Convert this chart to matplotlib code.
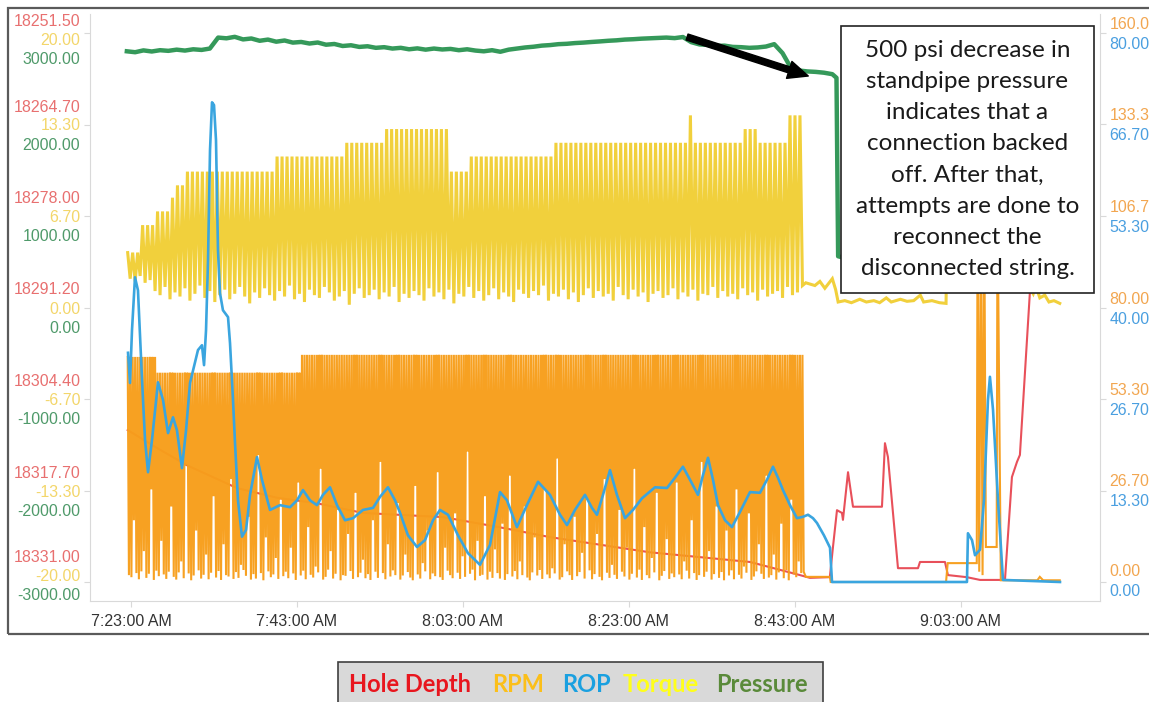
import numpy as np
import matplotlib.pyplot as plt
import matplotlib.transforms as mtransforms
from matplotlib.patches import Rectangle

plt.rcParams['font.family'] = 'Liberation Sans'

# x axis: minutes after 7:23:00 AM
time_ticks = [0, 20, 40, 60, 80, 100]
time_labels = ['7:23:00 AM', '7:43:00 AM', '8:03:00 AM', '8:23:00 AM', '8:43:00 AM', '9:03:00 AM']

depth_labels = ['18251.50', '18264.70', '18278.00', '18291.20', '18304.40', '18317.70', '18331.00']
torque_labels = ['20.00', '13.30', '6.70', '0.00', '-6.70', '-13.30', '-20.00']
pressure_labels = ['3000.00', '2000.00', '1000.00', '0.00', '-1000.00', '-2000.00', '-3000.00']
rpm_labels = ['160.00', '133.30', '106.70', '80.00', '53.30', '26.70', '0.00']
rop_labels = ['80.00', '66.70', '53.30', '40.00', '26.70', '13.30', '0.00']

# standpipe pressure, psi
pressure_t = [-0.5, 0.5, 1.5, 2.5, 3.5, 4.5, 5.5, 6.5, 7.5, 8.5, 9.5, 10.5, 11.5, 12.5, 13.5,
              14.5, 15.5, 16.5, 17.5, 18.5, 19.5, 20.5, 21.5, 22.5, 23.5, 24.5, 25.5, 26.5,
              27.5, 28.5, 29.5, 30.5, 31.5, 32.5, 33.5, 34.5, 35.5, 36.5, 37.5, 38.5, 39.5,
              40.5, 41.5, 42.5, 43.5, 44.5, 45.5, 46.5, 47.5, 48.5, 49.5, 50.5, 51.5, 52.5,
              53.5, 54.5, 55.5, 56.5, 57.5, 58.5, 59.5, 60.5, 61.5, 62.5, 63.5, 64.5, 65.5,
              66.5, 67.5, 68.5, 69.5, 70.5, 71.5, 72.5, 73.5, 74.5, 75.5, 76.5, 77.5, 78.5,
              79.5, 80.5, 81.5, 82.5, 83.5, 84.5, 85.0, 85.2, 86.5]
pressure = [2800, 2790, 2810, 2798, 2812, 2805, 2818, 2808, 2822, 2815, 2830, 2950, 2942, 2958,
            2930, 2940, 2915, 2928, 2905, 2918, 2895, 2902, 2885, 2896, 2872, 2880, 2858, 2866,
            2848, 2855, 2838, 2845, 2830, 2838, 2822, 2832, 2818, 2830, 2820, 2826, 2812, 2822,
            2808, 2800, 2812, 2795, 2818, 2830, 2842, 2850, 2862, 2868, 2878, 2882, 2890, 2895,
            2902, 2908, 2915, 2920, 2928, 2932, 2938, 2942, 2946, 2950, 2944, 2956, 2900, 2875,
            2870, 2858, 2862, 2848, 2845, 2838, 2842, 2852, 2878, 2780, 2620, 2590, 2580, 2575,
            2566, 2550, 2510, 560, 530]

# torque: drilling cycles (peak level steps up over time) then the quiet tail
torque_steps = [-0.4, 1.2, 2.9, 4.7, 5.5, 6.4, 17.4, 25.5, 30.4, 38.1, 40.8, 51.1, 66.9, 67.6, 73.4, 75.3, 79.0]
torque_levels = [4.0, 6.0, 7.0, 8.0, 8.9, 9.9, 11.0, 12.0, 13.0, 9.9, 11.0, 12.0, 14.0, 12.0, 13.0, 12.0, 14.0]
torque_low = [2.1, 1.9, 2.3, 1.8, 2.0, 1.2, 0.9, 1.5, 0.6, 1.1,
              0.8, 1.4, 0.5, 1.0, 1.6, 0.7, 1.2, 0.4, 0.9, 1.3,
              0.6, 1.0, 1.5, 0.8, 0.3, 1.1, 0.7, 1.4, 0.9, 0.5,
              1.2, 0.8, 1.6, 0.6, 1.0, 0.4, 1.3, 0.9, 0.7, 1.5,
              1.1, 0.5, 0.8, 1.2, 0.2, 1.0, 1.4, 0.7, 0.9, 1.3,
              0.6, 1.1, 0.8, 1.5, 0.4, 1.0, 0.7, 1.2, 0.9, 0.5,
              1.4, 0.8, 1.1, 0.6, 1.3, 0.3, 1.0, 0.8, 1.5, 0.7,
              1.2, 0.5, 0.9, 1.4, 0.6, 1.1, 0.8, 0.4, 1.3, 1.0,
              0.7, 1.2, 0.9, 1.6, 0.5, 1.0, 0.8, 1.3, 0.6, 1.1,
              0.4, 0.9, 1.4, 0.7, 1.2, 0.8, 1.0, 0.5, 1.5, 0.9,
              0.6, 1.3, 0.8, 1.1, 0.4, 1.0, 1.2, 0.7, 0.9, 1.4,
              0.6, 1.1, 0.8, 1.3, 0.5, 1.0, 0.9, 1.5, 0.7, 1.2,
              0.8, 1.0, 0.6, 1.4, 0.9, 1.1, 0.5, 1.3, 0.8, 1.0,
              1.2, 0.7, 1.5, 0.9, 1.1, 1.6]
torque_tail_t = [81.3, 82.4, 83.0, 83.6, 84.5, 84.9, 85.2, 86.0, 86.8, 87.8, 88.6, 89.5, 90.2,
                 91.0, 91.6, 92.7, 93.5, 94.3, 95.1, 95.5, 96.5, 97.4, 98.2, 98.4, 107.9, 108.3,
                 108.7, 109.0, 109.5, 110.1, 110.6, 111.2, 111.9]
torque_tail = [1.8, 1.6, 1.9, 1.4, 2.1, 1.3, 0.4, 0.5, 0.35, 0.6, 0.4, 0.5, 0.35, 0.7, 0.4,
               0.6, 0.45, 0.5, 0.9, 0.4, 0.5, 0.35, 0.3, 9.5, 9.5, 1.4, 1.0, 1.6, 0.7, 0.9,
               0.4, 0.5, 0.3]

# rotary speed cycles
rpm_steps = [-0.4, 3.0, 20.6]
rpm_levels = [65.6, 61.0, 66.2]
rpm_low = [2.0, 1.4, 18.0, 2.6, 0.8, 3.1, 9.0, 1.2, 2.4, 27.0, 0.6, 3.3, 1.7, 12.0, 2.2, 0.9,
           3.0, 22.0, 1.5, 0.7, 2.8, 6.0, 1.1, 34.0, 2.5, 0.5, 1.9, 15.0, 3.4, 1.0, 2.1, 8.0,
           0.8, 2.7, 25.0, 1.3, 3.2, 0.6, 11.0, 2.0, 1.6, 30.0, 0.9, 2.9, 1.2, 5.0, 3.5, 1.8,
           19.0, 0.7, 2.3, 1.0, 37.0, 2.6, 0.5, 13.0, 3.1, 1.4, 2.2, 7.0, 0.9, 24.0, 1.7, 3.0,
           1.1, 10.0, 2.5, 0.6, 29.0, 1.9, 3.3, 0.8, 16.0, 2.1, 1.3, 4.5, 2.8, 33.0, 0.7, 1.5,
           3.6, 9.0, 1.0, 2.4, 21.0, 0.5, 2.0, 1.8, 14.0, 3.2, 0.9, 26.0, 1.4, 2.7, 6.5, 1.1,
           2.3, 0.6, 18.0, 3.0, 1.2, 35.0, 2.6, 0.8, 11.0, 1.6, 3.4, 2.0, 23.0, 0.7, 1.9, 8.0,
           2.9, 1.3, 0.5, 28.0, 2.2, 1.0, 5.5, 3.1, 15.0, 0.8, 2.5, 1.7, 32.0, 1.4, 0.6, 10.0,
           3.3, 2.0, 1.1, 20.0, 2.7, 0.9, 7.5, 1.5, 38.0, 2.4, 3.6, 0.5, 12.0, 1.8, 2.1, 25.0,
           0.7, 3.0, 1.2, 9.5, 2.6, 1.0, 17.0, 0.6, 2.3, 31.0, 1.6, 3.2, 0.8, 6.0, 2.0, 22.0,
           1.3, 0.5, 2.8, 13.0, 1.9, 3.5, 0.9, 27.0, 2.2, 1.1, 4.0, 2.5, 36.0, 0.7, 1.4, 11.0,
           3.1, 2.0, 0.6, 19.0, 1.7, 2.9, 8.5, 1.0, 24.0, 3.4, 0.8, 2.3, 14.0, 1.5, 0.5, 30.0,
           2.7, 1.2, 5.0, 2.1, 0.9, 21.0, 3.0, 1.6, 10.0, 0.7, 2.4, 33.0, 1.3, 3.6, 0.6, 16.0,
           2.0, 1.1, 7.0, 2.8, 26.0, 0.5, 1.8, 3.2, 12.5, 0.9, 2.5, 1.4, 29.0, 2.2, 0.8, 6.0,
           3.3, 1.0, 18.0, 2.6, 0.6, 2.0, 35.0, 1.5, 3.0, 9.0, 0.7, 2.3, 22.0, 1.2, 2.9, 0.5,
           15.0, 1.9, 3.4, 0.8, 27.0, 2.1, 1.0, 4.5, 2.7, 20.0, 0.6, 1.6, 3.1, 11.0, 2.4, 0.9,
           31.0, 1.3, 2.0, 8.0, 0.7, 2.8, 17.0, 1.1, 3.5, 0.5, 24.0, 2.2, 1.4, 6.0, 2.6, 3.0]
rpm_tail_t = [81.3, 84.2, 84.3, 98.2, 98.4, 101.9, 102.0, 102.2, 102.4, 102.6, 102.8, 103.0,
              104.3, 104.4, 104.8, 109.2, 109.5, 109.9, 111.9]
rpm_tail = [1.5, 1.5, 0.0, 0.0, 5.5, 5.5, 110.0, 3.0, 110.0, 2.0, 110.0, 10.2, 10.2, 110.0,
            0.5, 0.5, 1.5, 0.5, 0.5]

# rate of penetration
rop_t = [-0.36, -0.12, 0.12, 0.48, 0.84, 1.33, 1.69, 2.05, 2.53, 3.25, 3.86, 4.46, 5.06, 5.54,
         6.14, 6.63, 7.11, 8.07, 8.55, 8.80, 9.04, 9.28, 9.52, 9.76, 10.0, 10.24, 10.48, 10.72,
         11.08, 11.69, 11.93, 12.29, 12.53, 12.89, 13.37, 13.86, 14.34, 15.18, 15.78, 16.75,
         17.95, 19.16, 20.0, 20.72, 21.57, 22.41, 23.13, 23.98, 24.82, 25.78, 26.75, 27.95,
         29.16, 30.0, 30.96, 31.81, 32.41, 33.37, 34.46, 35.42, 36.39, 37.23, 38.19, 39.4,
         40.6, 42.05, 43.25, 44.46, 45.3, 46.5, 47.7, 49.04, 50.48, 51.69, 52.53, 53.49, 54.7,
         55.54, 56.14, 56.87, 57.71, 58.55, 59.52, 60.48, 61.57, 63.13, 64.58, 65.54, 66.5,
         67.35, 68.31, 68.92, 69.52, 70.12, 70.72, 71.57, 72.41, 73.37, 74.58, 75.78, 76.63,
         77.35, 77.95, 78.55, 79.4, 80.24, 80.96, 81.57, 82.17, 82.65, 83.49, 84.22, 84.46,
         100.72, 100.84, 101.33, 101.69, 102.29, 102.77, 103.25, 103.49, 103.86, 104.46,
         105.06, 111.93]
rop = [33.4, 29.0, 36.7, 44.4, 42.5, 29.4, 20.7, 16.0, 20.7, 29.1, 26.5, 21.7, 24.0, 22.1,
       16.6, 22.1, 29.0, 33.8, 34.5, 31.6, 36.7, 46.9, 62.9, 69.9, 69.5, 64.4, 48.4, 42.1,
       39.6, 38.6, 34.8, 26.5, 20.3, 11.9, 6.6, 7.6, 12.7, 18.2, 14.9, 10.5, 11.2, 10.9, 11.9,
       13.4, 11.9, 11.2, 12.7, 13.8, 11.2, 9.0, 9.3, 10.5, 10.8, 12.4, 13.8, 11.9, 10.1, 6.8,
       5.1, 6.1, 9.0, 10.5, 9.8, 6.8, 4.2, 2.5, 5.4, 13.1, 11.9, 8.0, 11.2, 14.6, 12.7, 9.8,
       8.3, 10.5, 12.7, 10.8, 9.8, 12.7, 16.3, 12.7, 9.3, 10.5, 12.2, 13.8, 13.7, 15.2, 16.8,
       14.9, 12.7, 15.6, 18.1, 14.9, 11.2, 9.0, 8.0, 10.2, 13.1, 13.0, 14.9, 16.8, 15.2, 13.4,
       11.2, 9.3, 9.5, 9.8, 9.3, 8.6, 6.8, 5.0, 0.0, 0.0, 7.1, 6.1, 3.9, 4.7, 11.9, 26.5, 29.9,
       25.1, 11.9, 0.3, 0.0]

# hole depth, ft
depth_t = [-0.4, 3.0, 6.75, 12.77, 17.59, 22.41, 27.95, 37.59, 44.1, 50.48, 62.53, 74.58, 80.6,
           81.8, 84.2, 84.58, 85.06, 85.66, 85.78, 86.39, 86.99, 90.48, 90.84, 91.2, 92.41,
           94.82, 95.06, 98.07, 98.43, 100.7, 102.3, 105.3, 106.14, 106.75, 107.1, 108.3, 110.1]
depth = [18309.0, 18311.5, 18314.1, 18317.4, 18318.8, 18319.6, 18321.0, 18321.6, 18323.0,
         18324.5, 18326.7, 18328.1, 18330.0, 18330.4, 18330.3, 18325.9, 18320.6, 18321.0,
         18322.0, 18315.1, 18320.1, 18320.1, 18310.9, 18312.9, 18329.0, 18329.0, 18328.1,
         18328.1, 18330.0, 18330.3, 18330.7, 18330.7, 18315.8, 18313.6, 18312.6, 18289.1,
         18272.8]

legend_names = ['Hole Depth', 'RPM', 'ROP', 'Torque', 'Pressure']
legend_colors = ['#e8161e', '#fbbf1a', '#1aa0e0', '#ffff1a', '#5a8a3a']
legend_x = [349, 492, 562, 623, 716]

note = ('500 psi decrease in\nstandpipe pressure\nindicates that a\nconnection backed\n'
        'off. After that,\nattempts are done to\nreconnect the\ndisconnected string.')


def cycles(t0, period, steps, levels, lows):
    # alternate peak / trough samples of a cycling channel
    n = len(lows)
    t_hi = t0 + period * np.arange(n)
    highs = np.array(levels)[np.searchsorted(steps, t_hi, side='right') - 1]
    t = np.column_stack([t_hi, t_hi + period / 2]).ravel()
    v = np.column_stack([highs, lows]).ravel()
    return t, v


tq_t, tq_v = cycles(-0.4, 0.6, torque_steps, torque_levels, torque_low)
tq_t = np.concatenate([tq_t, torque_tail_t])
tq_v = np.concatenate([tq_v, torque_tail])
rpm_t, rpm_v = cycles(-0.4, 0.3, rpm_steps, rpm_levels, rpm_low)
rpm_t = np.concatenate([rpm_t, rpm_tail_t])
rpm_v = np.concatenate([rpm_v, rpm_tail])

W, H = 1149, 702
fig = plt.figure(figsize=(W / 100, H / 100), dpi=100)
ax_hd = fig.add_axes([90 / W, 1 - 601 / H, 1010 / W, 587 / H])
ax_tq = ax_hd.twinx()
ax_rpm = ax_hd.twinx()
ax_rop = ax_hd.twinx()
ax_p = ax_hd.twinx()

ax_hd.plot(depth_t, depth, color='#e8505a', lw=1.5)
ax_tq.plot(tq_t, tq_v, color='#f1d03c', lw=2.2, solid_joinstyle='miter')
ax_rpm.plot(rpm_t, rpm_v, color='#f79e1b', lw=1.5, alpha=0.97, solid_joinstyle='miter')
ax_rop.plot(rop_t, rop, color='#3aa5df', lw=1.9, solid_joinstyle='round')
ax_p.plot(pressure_t, pressure, color='#35995a', lw=3.2)

ax_hd.set_xlim(-4.94, 116.75)
ax_hd.set_xticks(time_ticks, time_labels)

grey = '#d9d9d9'
for a in (ax_hd, ax_tq, ax_rpm, ax_rop, ax_p):
    for s in a.spines.values():
        s.set_visible(False)
for s in ('left', 'bottom', 'right'):
    ax_hd.spines[s].set_visible(True)
    ax_hd.spines[s].set_color(grey)
ax_hd.tick_params(axis='x', length=4, color=grey, labelsize=11.5, labelcolor='#333333', pad=5)


def scale(ax, top, bottom, labels, side, color, dy, ends=(0, 0), tick_len=0):
    pad = (top - bottom) * 19 / 549
    ax.set_ylim(bottom - pad, top + pad)
    ax.set_yticks(np.linspace(top, bottom, 7), labels)
    if side == 'left':
        ax.yaxis.tick_left()
    else:
        ax.yaxis.tick_right()
    ax.tick_params(axis='y', length=tick_len, color=grey, labelsize=11.5, labelcolor=color,
                   pad=3 + (4 - tick_len))
    labs = ax.get_yticklabels()
    for i, lab in enumerate(labs):
        shift = dy + (ends[0] if i == 0 else ends[1] if i == len(labs) - 1 else 0)
        lab.set_transform(lab.get_transform() +
                          mtransforms.ScaledTranslation(0, -shift / 100, fig.dpi_scale_trans))


scale(ax_hd, 18251.5, 18331.0, depth_labels, 'left', '#e87070', -19, (6, -7), 4)
scale(ax_tq, 20, -20, torque_labels, 'left', '#f3d66a', 0, (6, -7))
scale(ax_p, 3000, -3000, pressure_labels, 'left', '#4f9a6a', 19, (6, -7))
scale(ax_rpm, 160, 0, rpm_labels, 'right', '#f2a650', -10, (0, -2), 4)
scale(ax_rop, 80, 0, rop_labels, 'right', '#4a9fe0', 10, (0, -2))

# arrow pointing at the pressure drop
ax_p.annotate('', xy=(81.6, 2530), xytext=(67.0, 2956),
              arrowprops=dict(arrowstyle='simple,head_width=0.8,head_length=0.9,tail_width=0.28',
                              color='black', mutation_scale=16, shrinkA=0, shrinkB=0))

# note box
fig.add_artist(Rectangle((841 / W, 1 - 293 / H), 253 / W, 267 / H, transform=fig.transFigure,
                         facecolor='white', edgecolor='#222222', lw=1.2, zorder=5))
fig.text(967.5 / W, 1 - 159.5 / H, note, ha='center', va='center', multialignment='center',
         fontsize=17.5, family='Lato', color='#1a1a1a', linespacing=1.6, zorder=6)

# outer frame
fig.add_artist(Rectangle((8 / W, 1 - 634 / H), 1.2, 626 / H, transform=fig.transFigure,
                         fill=False, edgecolor='#5a5a5a', lw=1.6))

# legend strip
fig.add_artist(Rectangle((338 / W, -0.02), 485 / W, 40 / H + 0.02, transform=fig.transFigure,
                         facecolor='#d9d9d9', edgecolor='#3f3f3f', lw=1.2))
for name, c, x in zip(legend_names, legend_colors, legend_x):
    fig.text(x / W, 1 - 684 / H, name, color=c, fontsize=17, family='Lato',
             fontweight='bold', ha='left', va='center')

fig.savefig('out.png', dpi=100)
